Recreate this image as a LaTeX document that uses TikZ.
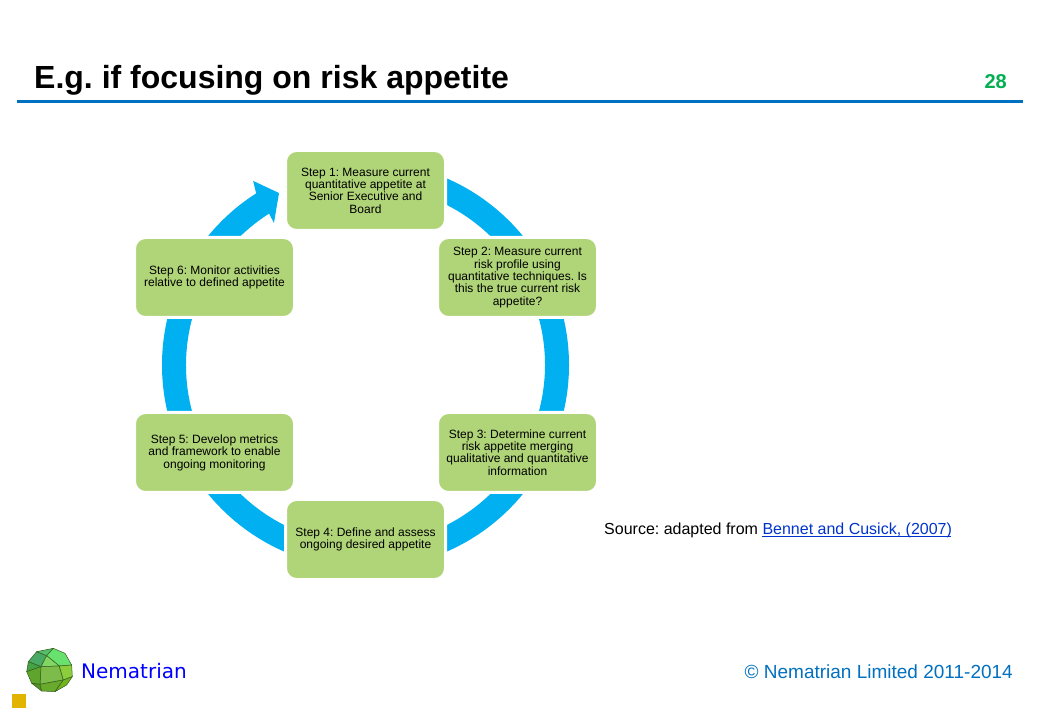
\documentclass[tikz,border=0pt]{standalone}
\usepackage{fontspec}
\setmainfont{Liberation Sans}
\newfontfamily\logofont{DejaVu Sans}
\usetikzlibrary{calc}
\frenchspacing
\definecolor{stepgreen}{RGB}{176,212,120}
\definecolor{ringblue}{RGB}{0,176,240}
\definecolor{rulerblue}{RGB}{0,112,192}
\definecolor{pagegreen}{RGB}{0,176,80}
\definecolor{linkblue}{RGB}{0,51,204}
\definecolor{logoblue}{RGB}{0,0,255}
\definecolor{goldsq}{RGB}{224,180,0}
\tikzset{
	stepbox/.style={draw=white,line width=3pt,fill=stepgreen,rounded corners=11pt,
		minimum width=160pt,minimum height=80pt,align=center,inner sep=0pt,
		font=\fontsize{12}{12.4}\selectfont},
	facet/.style={draw={rgb,255:red,50;green,95;blue,30},line width=0.5pt,line join=round}
}
\begin{document}
\begin{tikzpicture}[x=1pt,y=1pt]
	\useasboundingbox (0,0) rectangle (1040,720);
	\def\ringouter{203.5}
	\def\ringinner{179.5}

	% header
	\node[anchor=base west,inner sep=0pt,font=\fontsize{32}{32}\selectfont\bfseries] (title) at (34,631) {E.g. if focusing on risk appetite};
	\node[anchor=base east,inner sep=0pt,text=pagegreen,font=\fontsize{20}{20}\selectfont\bfseries] (pagenum) at (1007,631) {28};
	\coordinate (ruleleft) at (17,618);
	\coordinate (ruleright) at (1023,618);
	\draw[rulerblue,line width=3pt] (ruleleft) -- (ruleright);

	% ring
	\coordinate (ringc) at (365.5,355);
	\fill[ringblue] ($(ringc)+(90:\ringouter)$) arc[start angle=90,end angle=-237.5,radius=\ringouter]
		-- ($(ringc)+(121.4:215.7)$) -- ($(ringc)+(116.7:192.5)$) -- ($(ringc)+(122.8:169)$)
		-- ($(ringc)+(122.5:\ringinner)$) arc[start angle=-237.5,end angle=90,radius=\ringinner] -- cycle;

	% steps
	\node[stepbox] (step1) at (365.5,529.5) {Step 1: Measure current\\quantitative appetite at\\Senior Executive and\\Board};
	\node[stepbox] (step2) at (517.5,442.5) {Step 2: Measure current\\risk profile using\\quantitative techniques. Is\\this the true current risk\\appetite?};
	\node[stepbox] (step3) at (517.5,267.5) {Step 3: Determine current\\risk appetite merging\\qualitative and quantitative\\information};
	\node[stepbox] (step4) at (365.5,180.5) {Step 4: Define and assess\\ongoing desired appetite};
	\node[stepbox] (step5) at (214.5,267.5) {Step 5: Develop metrics\\and framework to enable\\ongoing monitoring};
	\node[stepbox] (step6) at (214.5,442.5) {Step 6: Monitor activities\\relative to defined appetite};

	% source
	\node[anchor=base west,inner sep=0pt,font=\fontsize{16}{16}\selectfont] (source) at (604,185.5) {Source: adapted from \textcolor{linkblue}{Bennet and Cusick, (2007)}};
	\coordinate (linkleft) at (762,183.5);
	\coordinate (linkright) at (951,183.5);
	\draw[linkblue,line width=1pt] (linkleft) -- (linkright);

	% footer
	\fill[goldsq] (12,12) rectangle (26,26);
	\begin{scope}[shift={(0,90)},x=0.3333pt,y=-0.3333pt]
		\coordinate (la) at (110,65);
		\coordinate (lb) at (160,55);
		\coordinate (lc) at (195,70);
		\coordinate (ld) at (215,105);
		\coordinate (le) at (217,140);
		\coordinate (lf) at (200,165);
		\coordinate (lg) at (165,185);
		\coordinate (lh) at (125,183);
		\coordinate (li) at (95,160);
		\coordinate (lj) at (80,125);
		\coordinate (lk) at (85,95);
		\coordinate (lp) at (140,77);
		\coordinate (lq) at (178,108);
		\coordinate (lr) at (123,110);
		\coordinate (ls) at (190,150);
		\coordinate (lt) at (120,163);
		\filldraw[facet,fill={rgb,255:red,72;green,170;blue,100}] (la) -- (lp) -- (lr) -- (lk) -- cycle;
		\filldraw[facet,fill={rgb,255:red,85;green,190;blue,105}] (la) -- (lb) -- (lp) -- cycle;
		\filldraw[facet,fill={rgb,255:red,105;green,225;blue,110}] (lb) -- (lc) -- (ld) -- (lq) -- (lp) -- cycle;
		\filldraw[facet,fill={rgb,255:red,130;green,215;blue,100}] (lp) -- (lq) -- (lr) -- cycle;
		\filldraw[facet,fill={rgb,255:red,125;green,188;blue,75}] (lr) -- (lq) -- (ls) -- (lt) -- cycle;
		\filldraw[facet,fill={rgb,255:red,140;green,205;blue,60}] (ld) -- (le) -- (ls) -- (lq) -- cycle;
		\filldraw[facet,fill={rgb,255:red,70;green,160;blue,70}] (lk) -- (lr) -- (lj) -- cycle;
		\filldraw[facet,fill={rgb,255:red,95;green,165;blue,45}] (lj) -- (lr) -- (lt) -- (li) -- cycle;
		\filldraw[facet,fill={rgb,255:red,85;green,145;blue,35}] (li) -- (lt) -- (lh) -- cycle;
		\filldraw[facet,fill={rgb,255:red,105;green,170;blue,45}] (lt) -- (ls) -- (lg) -- (lh) -- cycle;
		\filldraw[facet,fill={rgb,255:red,115;green,180;blue,30}] (ls) -- (le) -- (lf) -- (lg) -- cycle;
	\end{scope}
	\node[anchor=base west,inner sep=0pt,text=logoblue,font=\logofont\fontsize{20}{20}\selectfont] (brand) at (81,42) {Nematrian};
	\node[anchor=base east,inner sep=0pt,text=rulerblue,font=\fontsize{19}{19}\selectfont] (copyright) at (1013,42) {© Nematrian Limited 2011-2014};
\end{tikzpicture}
\end{document}
